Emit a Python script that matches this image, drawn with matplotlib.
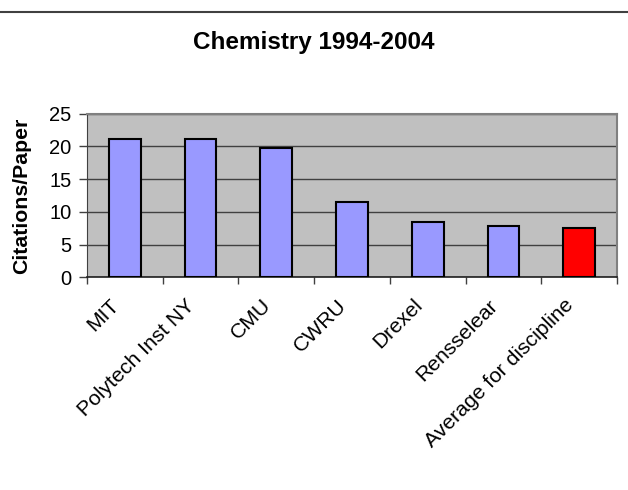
import matplotlib
matplotlib.use("Agg")
import matplotlib.pyplot as plt
from matplotlib.lines import Line2D

# values
schools = ["MIT", "Polytech Inst NY", "CMU", "CWRU", "Drexel",
           "Rensselear", "Average for discipline"]
citations = [21.2, 21.2, 19.7, 11.5, 8.5, 7.9, 7.6]
bar_colors = ["#9999FF"] * 6 + ["#FF0000"]
y_ticks = [0, 5, 10, 15, 20, 25]

plt.rcParams["font.family"] = ["Liberation Sans", "DejaVu Sans"]

fig = plt.figure(figsize=(6.28, 4.9), dpi=100)
ax = fig.add_axes([0.1385, 0.434, 0.844, 0.334])
ax.set_facecolor("#C0C0C0")

x = list(range(len(schools)))
ax.bar(x, citations, width=0.42, color=bar_colors, edgecolor="black",
       linewidth=1.5, zorder=3)

ax.set_xlim(-0.5, len(schools) - 0.5)
ax.set_ylim(0, 25)
ax.set_yticks(y_ticks)
ax.set_yticklabels([str(t) for t in y_ticks], fontsize=14.5)
ax.grid(axis="y", color="#404040", linewidth=1.0, zorder=1)
ax.set_axisbelow(True)

# category boundaries carry the x ticks, labels sit at the centres
ax.set_xticks([i - 0.5 for i in range(len(schools) + 1)])
ax.set_xticklabels([])
ax.tick_params(axis="x", direction="out", length=5, color="#404040", width=1)
ax.tick_params(axis="y", direction="out", length=6, color="#404040", width=1, pad=5)
for i, name in enumerate(schools):
    ax.annotate(name, xy=(i, 0), xycoords=("data", "axes fraction"),
                xytext=(-6, -18), textcoords="offset points",
                rotation=45, ha="right", va="center",
                rotation_mode="anchor", fontsize=15.2)

for side in ["top", "right"]:
    ax.spines[side].set_color("#808080")
    ax.spines[side].set_linewidth(1.5)
ax.spines["left"].set_color("#404040")
ax.spines["bottom"].set_color("#202020")
ax.spines["bottom"].set_linewidth(1.2)

ax.set_ylabel("Citations/Paper", fontsize=15.3, fontweight="bold", labelpad=13)
fig.text(0.5, 0.914, "Chemistry 1994-2004", ha="center", va="center",
         fontsize=17.5, fontweight="bold")

fig.add_artist(Line2D([0, 1], [0.976, 0.976], transform=fig.transFigure,
                      color="#404040", linewidth=1.5))

fig.savefig("out.png", dpi=100)
